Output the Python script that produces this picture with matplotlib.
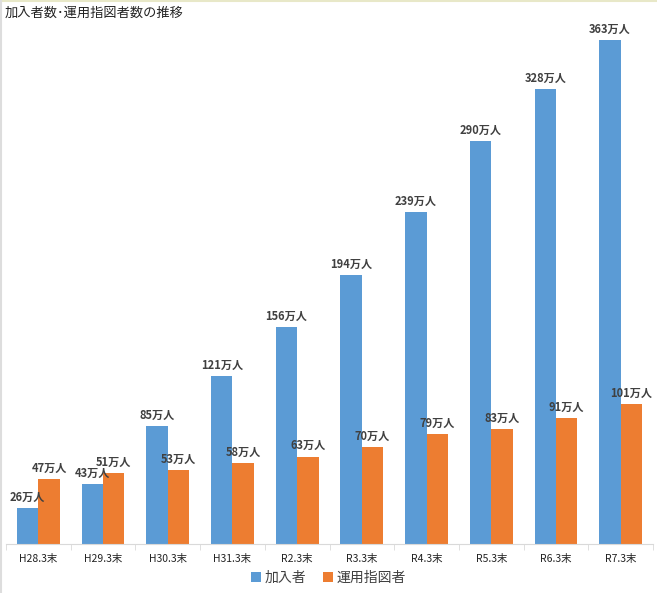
import numpy as np
import matplotlib
matplotlib.use('Agg')
import matplotlib.pyplot as plt
from matplotlib.lines import Line2D

plt.rcParams['font.family'] = ['Noto Sans CJK JP', 'DejaVu Sans']

# データ
periods = ['H28.3末', 'H29.3末', 'H30.3末', 'H31.3末', 'R2.3末',
           'R3.3末', 'R4.3末', 'R5.3末', 'R6.3末', 'R7.3末']
joiners = [26, 43, 85, 121, 156, 194, 239, 290, 328, 363]      # 加入者 (万人)
directors = [47, 51, 53, 58, 63, 70, 79, 83, 91, 101]         # 運用指図者 (万人)

title = '加入者数･運用指図者数の推移'
blue = '#5B9BD5'
orange = '#ED7D31'

W, H = 657, 593
fig = plt.figure(figsize=(W / 100, H / 100), dpi=100)
ax = fig.add_axes([6 / W, (H - 544) / H, (653 - 6) / W, (544 - 20) / H])

x = np.arange(len(periods))
bw = 0.33
b1 = ax.bar(x - bw / 2, joiners, bw, color=blue, label='加入者')
b2 = ax.bar(x + bw / 2, directors, bw, color=orange, label='運用指図者')

# 棒の上に値ラベル
for bars, vals in [(b1, joiners), (b2, directors)]:
    for rect, v in zip(bars, vals):
        ax.annotate(f'{v}万人', (rect.get_x() + rect.get_width() / 2, v),
                    xytext=(0, 3), textcoords='offset points',
                    ha='center', va='bottom', fontsize=8, fontweight='bold',
                    color='#404040')

ax.set_xlim(-0.5, len(periods) - 0.5)
ax.set_ylim(0, 377.5)
ax.set_yticks([])
ax.set_xticks(x)
ax.set_xticklabels(periods, fontsize=7.5, color='#222222')
ax.set_xticks(np.arange(len(periods) + 1) - 0.5, minor=True)
ax.tick_params(axis='x', which='major', length=0, pad=7)
ax.tick_params(axis='x', which='minor', length=4, color='#d9d9d9')
for s in ['top', 'right', 'left']:
    ax.spines[s].set_visible(False)
ax.spines['bottom'].set_color('#d9d9d9')

fig.text(5 / W, 1 - 13 / H, title, fontsize=9.5, va='center', ha='left', color='#222222')

fig.legend(loc='center', bbox_to_anchor=(0.5, (H - 578) / H), ncol=2, frameon=False,
           fontsize=10, handlelength=0.7, handleheight=0.7, handletextpad=0.3,
           columnspacing=1.2, labelcolor='#404040')

# 外枠
fig.add_artist(Line2D([0, 1], [1 - 0.5 / H, 1 - 0.5 / H], color='#e8e8c8', lw=1.5))
fig.add_artist(Line2D([0.5 / W, 0.5 / W], [0, 1], color='#dddddd', lw=1.5))

fig.savefig('out.png', dpi=100)
